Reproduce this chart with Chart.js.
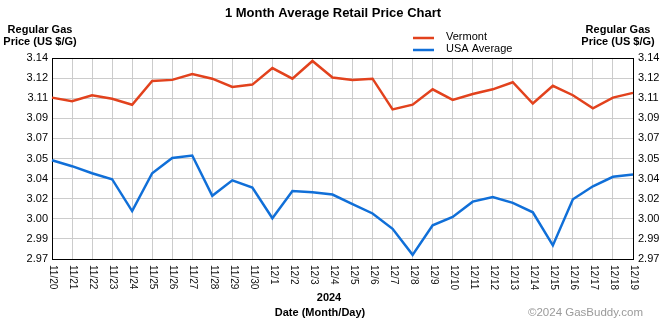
<!DOCTYPE html>
<html lang="en">
<head>
<meta charset="UTF-8">
<title>1 Month Average Retail Price Chart</title>
<script src="https://cdn.jsdelivr.net/npm/chart.js"></script>
<style>
  html, body { margin: 0; padding: 0; background: #fff; }
</style>
</head>
<body>
<canvas id="priceChart" width="665" height="326"></canvas>
<script>
// ------------------------------------------------
// Data
const days = ['11/20', '11/21', '11/22', '11/23', '11/24', '11/25', '11/26', '11/27', '11/28', '11/29',
              '11/30', '12/1', '12/2', '12/3', '12/4', '12/5', '12/6', '12/7', '12/8', '12/9',
              '12/10', '12/11', '12/12', '12/13', '12/14', '12/15', '12/16', '12/17', '12/18', '12/19'];
const vermont = [3.106, 3.103, 3.108, 3.105, 3.100, 3.120, 3.121, 3.126, 3.122, 3.115,
                 3.117, 3.131, 3.122, 3.137, 3.123, 3.121, 3.122, 3.096, 3.100, 3.113,
                 3.104, 3.109, 3.113, 3.119, 3.101, 3.116, 3.108, 3.097, 3.106, 3.110];
const usaAverage = [3.053, 3.048, 3.042, 3.037, 3.010, 3.042, 3.055, 3.057, 3.023, 3.036,
                    3.030, 3.004, 3.027, 3.026, 3.024, 3.016, 3.008, 2.995, 2.973, 2.998,
                    3.005, 3.018, 3.022, 3.017, 3.009, 2.981, 3.020, 3.031, 3.039, 3.041];
const yTickLabels = ['2.97', '2.99', '3.00', '3.02', '3.04', '3.05', '3.07', '3.09', '3.11', '3.12', '3.14'];
const yMin = 2.9695;
const yStep = 0.017;
const yMax = yMin + yStep * (yTickLabels.length - 1);

const FONT = '"Liberation Sans", Arial, sans-serif';

// ticks exactly at the gridlines of the original
function setTicks(scale) {
    scale.ticks = yTickLabels.map((_, i) => ({ value: yMin + i * yStep }));
}

// texts, legend, rotated day labels and top border
const decorations = {
    id: 'decorations',
    afterDraw(chart) {
        const ctx = chart.ctx;
        const area = chart.chartArea;
        const xScale = chart.scales.x;
        ctx.save();

        // top border of the plot box
        ctx.strokeStyle = '#000';
        ctx.lineWidth = 1;
        ctx.beginPath();
        ctx.moveTo(area.left, Math.round(area.top) + 0.5);
        ctx.lineTo(area.right + 1, Math.round(area.top) + 0.5);
        ctx.stroke();

        ctx.fillStyle = '#000';
        ctx.textBaseline = 'middle';

        ctx.font = 'bold 13px ' + FONT;
        ctx.textAlign = 'center';
        ctx.fillText('1 Month Average Retail Price Chart', 333, 13);

        ctx.font = 'bold 11px ' + FONT;
        ctx.fillText('Regular Gas', 40, 30);
        ctx.fillText('Price (US $/G)', 40, 42);
        ctx.fillText('Regular Gas', 618, 30);
        ctx.fillText('Price (US $/G)', 618, 42);
        ctx.fillText('2024', 329, 298);
        ctx.fillText('Date (Month/Day)', 320, 313);

        ctx.font = '11.5px ' + FONT;
        ctx.textAlign = 'right';
        ctx.fillStyle = '#9a9a9a';
        ctx.fillText('\u00A92024 GasBuddy.com', 643, 313);

        // legend
        ctx.font = '11px ' + FONT;
        ctx.textAlign = 'left';
        chart.data.datasets.forEach((ds, i) => {
            const y = 37 + i * 12;
            ctx.strokeStyle = ds.borderColor;
            ctx.lineWidth = 2.5;
            ctx.beginPath();
            ctx.moveTo(413, y + 1);
            ctx.lineTo(434, y + 1);
            ctx.stroke();
            ctx.fillStyle = '#000';
            ctx.fillText(ds.label, 446, y);
        });

        // day labels, rotated clockwise
        ctx.font = '10px ' + FONT;
        ctx.fillStyle = '#111';
        xScale.ticks.forEach((t, i) => {
            const x = xScale.getPixelForTick(i);
            ctx.save();
            ctx.translate(x + 1, area.bottom + 6);
            ctx.rotate(Math.PI / 2);
            ctx.textAlign = 'left';
            ctx.textBaseline = 'middle';
            ctx.fillText(days[i], 0, 0);
            ctx.restore();
        });

        ctx.restore();
    }
};

const ctx = document.getElementById('priceChart');
const priceChart = new Chart(ctx, {
    type: 'line',
    data: {
        labels: days,
        datasets: [
            { label: 'Vermont', data: vermont, borderColor: '#e2421d', borderWidth: 2.5, yAxisID: 'y' },
            { label: 'USA Average', data: usaAverage, borderColor: '#106fd8', borderWidth: 2.5, yAxisID: 'y' }
        ]
    },
    options: {
        responsive: false,
        devicePixelRatio: 1,
        animation: false,
        layout: { padding: { top: 58, left: 0, right: 0, bottom: 0 } },
        elements: {
            point: { radius: 0 },
            line: { tension: 0, fill: false }
        },
        plugins: {
            legend: { display: false },
            title: { display: false },
            tooltip: { enabled: false }
        },
        scales: {
            x: {
                offset: false,
                ticks: { display: false, autoSkip: false },
                grid: { color: '#cccccc', drawTicks: false },
                border: { color: '#000' },
                afterFit(scale) { scale.height = 67; }
            },
            y: {
                position: 'left',
                min: yMin,
                max: yMax,
                afterBuildTicks: setTicks,
                ticks: {
                    callback: (v, i) => yTickLabels[i],
                    font: { family: FONT, size: 11 },
                    color: '#000',
                    padding: 4
                },
                grid: { color: '#cccccc', drawTicks: false },
                border: { color: '#000' },
                afterFit(scale) { scale.width = 52; }
            },
            y2: {
                position: 'right',
                min: yMin,
                max: yMax,
                afterBuildTicks: setTicks,
                ticks: {
                    callback: (v, i) => yTickLabels[i],
                    font: { family: FONT, size: 11 },
                    color: '#000',
                    padding: 5
                },
                grid: { drawOnChartArea: false, drawTicks: false },
                border: { color: '#000' },
                afterFit(scale) { scale.width = 32; }
            }
        }
    },
    plugins: [decorations]
});
</script>
</body>
</html>
